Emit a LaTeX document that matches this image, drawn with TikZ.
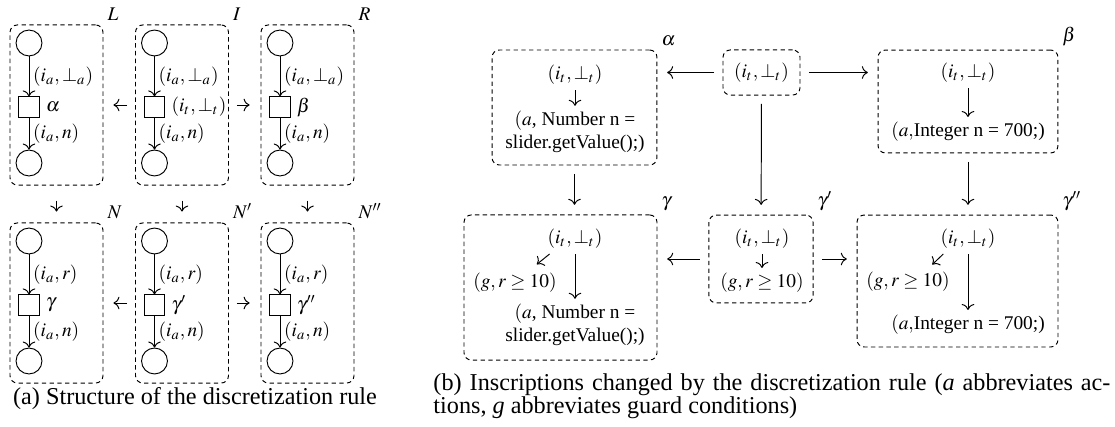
\documentclass[tikz,border=0pt]{standalone}
\usepackage{mathptmx}
\usepackage{fontspec}
\setmainfont{Liberation Serif}
\usetikzlibrary{arrows.meta}
\tikzstyle{RuleBox}=[draw,dash pattern=on 1.8pt off 1.4pt,rounded corners=3pt,inner sep=0pt]
\tikzstyle{BoxLab}=[inner sep=1.5pt,font=\footnotesize]
\tikzstyle{Place}=[circle,draw,minimum size=10.7pt,inner sep=0pt]
\tikzstyle{Trans}=[rectangle,draw,minimum size=8.3pt,inner sep=0pt]
\tikzstyle{Arc}=[->]
\tikzstyle{Ins}=[inner sep=2pt,font=\footnotesize,align=center]
\tikzstyle{Link}=[->,shorten <=3.5pt,shorten >=4pt]

\begin{document}
\begin{tikzpicture}[x=0.413pt,y=-0.413pt,font=\footnotesize]
\useasboundingbox(0,0)rectangle(1115,427);
% (a) structure of the rule
\foreach \cx/\cy/\nm/\bl/\tr/\inl in {56.5/105/L/L/\alpha/{(i_a,\bot_a)},182/105/I/I/{(i_t,\bot_t)}/{(i_a,\bot_a)},307.5/105/R/R/\beta/{(i_a,\bot_a)},56.5/303/N/N/\gamma/{(i_a,r)},182/303/Np/N'/\gamma'/{(i_a,r)},307.5/303/Npp/N''/\gamma''/{(i_a,r)}}{
  \node[RuleBox,minimum width=38.4pt,minimum height=66.1pt,label={[BoxLab]north east:$\bl$}](\nm)at(\cx,\cy){};
  \node[Place](\nm p)at(\cx-27.5,\cy-62){};
  \node[Trans,label={[inner sep=2.5pt]right:$\tr$}](\nm t)at(\cx-27.5,\cy+2){};
  \node[Place](\nm q)at(\cx-27.5,\cy+58){};
  \draw[Arc](\nm p)--node[right,inner sep=1.5pt]{$\inl$}(\nm t);
  \draw[Arc](\nm t)--node[right,inner sep=1.5pt]{$(i_a,n)$}(\nm q);
}
\draw[Arc,shorten <=3.3pt,shorten >=4.1pt](I)--(L);
\draw[Arc,shorten <=3.3pt,shorten >=4.5pt](I)--(R);
\foreach \a/\b in {L/N,I/Np,R/Npp}\draw[Arc,shorten <=6.2pt,shorten >=4.5pt](\a)--(\b);
\draw[Arc,shorten <=3.3pt,shorten >=4.1pt](Np)--(N);
\draw[Arc,shorten <=3.3pt,shorten >=4.5pt](Np)--(Npp);
% (b) inscriptions
\node[RuleBox,minimum width=31.8pt,minimum height=18.6pt](it)at(761.5,72.5){$(i_t,\bot_t)$};
\node[RuleBox,minimum width=68.1pt,minimum height=47.5pt,label={[BoxLab]north east:$\alpha$}](al)at(574.5,107.5){};
\node[Ins](alT)at(575,75){$(i_t,\bot_t)$};
\node[Ins](alA)at(575,132){$(a$, Number n =\\slider.getValue();)};
\draw[->](alT)--(alA);
\node[RuleBox,minimum width=74.3pt,minimum height=42.5pt,label={[BoxLab]north east:$\beta$}](be)at(968,101.5){};
\node[Ins](beT)at(968,73){$(i_t,\bot_t)$};
\node[Ins](beA)at(968,132){$(a,$Integer n = 700;)};
\draw[->](beT)--(beA);
\node[RuleBox,minimum width=79.7pt,minimum height=59.9pt,label={[BoxLab]north east:$\gamma$}](ga)at(560.5,287.5){};
\node[Ins](gaT)at(575,239){$(i_t,\bot_t)$};
\node[Ins](gaG)at(515,283){$(g,r\geq10)$};
\node[Ins](gaA)at(575,325){$(a$, Number n =\\slider.getValue();)};
\draw[->](gaT)--(gaA);
\draw[->]([xshift=3pt]gaT.south west)--([xshift=9pt,yshift=1.5pt]gaG.north);
\node[RuleBox,minimum width=43pt,minimum height=36.3pt,label={[BoxLab]north east:$\gamma'$}](gb)at(761,259){};
\node[Ins](gbT)at(762,239){$(i_t,\bot_t)$};
\node[Ins](gbG)at(762,283){$(g,r\geq10)$};
\draw[->](gbT)--(gbG);
\node[RuleBox,minimum width=83pt,minimum height=54.5pt,label={[BoxLab]north east:$\gamma''$}](gc)at(957.5,281){};
\node[Ins](gcT)at(968,239){$(i_t,\bot_t)$};
\node[Ins](gcG)at(908,282){$(g,r\geq10)$};
\node[Ins](gcA)at(968,325){$(a,$Integer n = 700;)};
\draw[->](gcT)--(gcA);
\draw[->]([xshift=3.3pt]gcT.south west)--([xshift=10pt,yshift=1pt]gcG.north);
\draw[Link](it.west)--(it.west-|al.east);
\draw[Link](it.east)--(it.east-|be.west);
\draw[Link](it)--(gb);
\draw[Link](al.south)--(al.south|-ga.north);
\draw[Link](be.south)--(be.south|-gc.north);
\draw[Link](gb.west)--(gb.west-|ga.east);
\draw[Link](gb.east)--(gb.east-|gc.west);
% captions
\node[font=\normalsize,inner sep=0pt](capA)at(195,399){(a) Structure of the discretization rule};
\node[font={\fontsize{10}{9.5}\selectfont},text width=279.6pt,align=justify,inner sep=0pt,anchor=north west](capB)at(433,373){(b) Inscriptions changed by the discretization rule (\textit{a} abbreviates ac-\linebreak tions, \textit{g} abbreviates guard conditions)};
\end{tikzpicture}
\end{document}
